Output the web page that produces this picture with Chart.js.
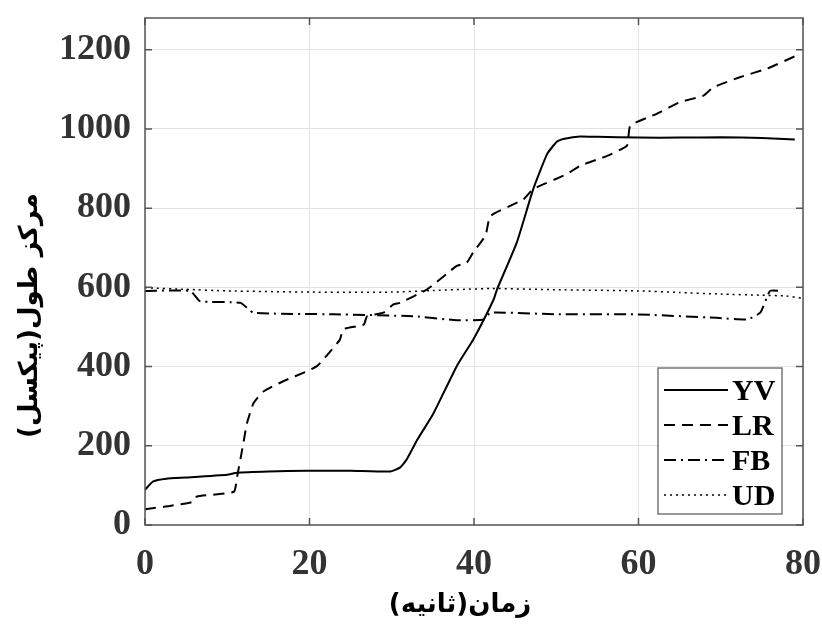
<!DOCTYPE html>
<html>
<head>
<meta charset="utf-8">
<script src="https://cdn.jsdelivr.net/npm/chart.js@4/dist/chart.umd.min.js"></script>
<style>
  html, body { margin: 0; padding: 0; background: #fff; }
  #wrap { width: 822px; height: 628px; position: relative; }
</style>
</head>
<body>
<div id="wrap"><canvas id="chart" width="822" height="628"></canvas></div>
<script>
// ---- data ----
const xTicks = [0, 20, 40, 60, 80];
const yTicks = [0, 200, 400, 600, 800, 1000, 1200];

const seriesNames = ['YV', 'LR', 'FB', 'UD'];

const tYV = [0, 1, 2.6, 5, 10, 11.2, 15, 19.7, 25, 29.8, 31, 31.8, 33.1, 35.1, 37.9, 39.9, 41.2, 42.4, 42.8, 45.2, 47.2, 48.9, 50.1, 51, 52.9, 55, 60, 65, 70, 75, 79];
const vYV = [89, 110, 117, 120, 127, 132, 135, 137, 137, 135, 145, 165, 215, 283, 401, 468, 519, 570, 595, 713, 848, 937, 968, 975, 981, 980, 978, 978, 979, 977, 973];

const tLR = [0, 3, 5.9, 6.3, 10.8, 11.2, 11.9, 12.4, 13.2, 14.4, 16.8, 19.7, 20.9, 21.7, 23.7, 24.1, 26.6, 27, 29, 30.2, 31, 34.3, 37.9, 39.1, 39.9, 41.4, 42, 46, 47.2, 51.3, 52.9, 56.2, 58.6, 59, 62.2, 65.1, 67.9, 69.1, 72.4, 75.6, 79.3];
const vLR = [40, 48, 59, 72, 84, 122, 200, 257, 308, 337, 363, 388, 401, 418, 468, 494, 506, 527, 536, 557, 561, 595, 654, 662, 688, 731, 780, 822, 848, 886, 907, 932, 958, 1008, 1038, 1068, 1084, 1105, 1131, 1152, 1186];

const tFB = [0, 5.5, 6.7, 11.6, 13.2, 22.9, 32.6, 37.9, 41.2, 42, 50.1, 59.4, 69.5, 73.2, 74.8, 76, 77.2];
const vFB = [591, 591, 565, 561, 536, 532, 527, 517, 519, 536, 532, 532, 523, 519, 536, 591, 591];

const tUD = [0, 5, 10, 20, 30, 35, 42, 50, 60, 65, 70, 75, 78, 80];
const vUD = [599, 595, 591, 588, 588, 592, 597, 594, 591, 587, 583, 580, 578, 572];

const xTitle = 'زمان(ثانیه)';
const yTitle = 'مرکز طول(پیکسل)';

function pts(t, v) {
    return t.map((x, i) => ({ x: x, y: v[i] }));
}

const tickFont = { family: "'Liberation Serif', 'Times New Roman', serif", size: 36, weight: 'bold' };
const titleFont = { family: "'DejaVu Sans', sans-serif", size: 26, weight: 'bold' };

// ---- frame, inner tick marks and axis titles (matlab style box) ----
const framePlugin = {
    id: 'frame',
    afterDatasetsDraw(chart) {
        const { ctx, chartArea: a, scales } = chart;
        ctx.save();
        ctx.strokeStyle = '#555';
        ctx.lineWidth = 1.5;
        ctx.setLineDash([]);
        ctx.strokeRect(a.left, a.top, a.right - a.left, a.bottom - a.top);
        const len = 7;
        ctx.beginPath();
        xTicks.forEach(v => {
            const px = scales.x.getPixelForValue(v);
            ctx.moveTo(px, a.bottom); ctx.lineTo(px, a.bottom - len);
            ctx.moveTo(px, a.top); ctx.lineTo(px, a.top + len);
        });
        yTicks.forEach(v => {
            const py = scales.y.getPixelForValue(v);
            ctx.moveTo(a.left, py); ctx.lineTo(a.left + len, py);
            ctx.moveTo(a.right, py); ctx.lineTo(a.right - len, py);
        });
        ctx.stroke();

        ctx.font = `bold ${titleFont.size}px ${titleFont.family}`;
        ctx.fillStyle = '#000';
        ctx.textAlign = 'center';
        ctx.textBaseline = 'middle';
        // x title sits a little left of the plot centre in the original
        ctx.fillText(xTitle, (a.left + a.right) / 2 - 14, a.bottom + 80);

        // y title, rotated, a bit below the middle
        ctx.translate(30, (a.top + a.bottom) / 2 + 44);
        ctx.rotate(-Math.PI / 2);
        ctx.fillText(yTitle, 0, 0);
        ctx.restore();
    }
};

// ---- legend box in the lower right of the plot ----
const legendPlugin = {
    id: 'boxLegend',
    afterDraw(chart) {
        const { ctx, chartArea: a } = chart;
        const w = 124, h = 146;
        const x0 = a.right - 21 - w;
        const y0 = a.bottom - 11 - h;
        ctx.save();
        ctx.fillStyle = '#fff';
        ctx.fillRect(x0, y0, w, h);
        ctx.strokeStyle = '#555';
        ctx.lineWidth = 1.2;
        ctx.setLineDash([]);
        ctx.strokeRect(x0, y0, w, h);
        ctx.font = "bold 30px 'Liberation Serif', serif";
        ctx.textBaseline = 'middle';
        chart.data.datasets.forEach((ds, i) => {
            const yy = y0 + 22 + i * 35;
            ctx.strokeStyle = '#000';
            ctx.lineWidth = ds.borderWidth;
            ctx.setLineDash(ds.borderDash || []);
            ctx.beginPath();
            ctx.moveTo(x0 + 6, yy);
            ctx.lineTo(x0 + 70, yy);
            ctx.stroke();
            ctx.setLineDash([]);
            ctx.fillStyle = '#000';
            ctx.fillText(ds.label, x0 + 74, yy + 2);
        });
        ctx.restore();
    }
};

const chart = new Chart(document.getElementById('chart'), {
    type: 'line',
    data: {
        datasets: [
            { label: seriesNames[0], data: pts(tYV, vYV), borderColor: '#000', borderWidth: 2, borderDash: [] },
            { label: seriesNames[1], data: pts(tLR, vLR), borderColor: '#000', borderWidth: 2, borderDash: [11, 7] },
            { label: seriesNames[2], data: pts(tFB, vFB), borderColor: '#000', borderWidth: 2, borderDash: [12, 5, 2, 5] },
            { label: seriesNames[3], data: pts(tUD, vUD), borderColor: '#000', borderWidth: 1.5, borderDash: [2, 4] }
        ]
    },
    options: {
        responsive: false,
        animation: false,
        elements: { point: { radius: 0 }, line: { tension: 0.15 } },
        layout: { padding: { top: 18, right: 19, left: 0, bottom: 0 } },
        plugins: { legend: { display: false }, tooltip: { enabled: false } },
        scales: {
            x: {
                type: 'linear', min: 0, max: 80,
                afterBuildTicks: s => { s.ticks = xTicks.map(v => ({ value: v })); },
                afterFit: s => { s.height = 103; s.paddingLeft = 0; s.paddingRight = 0; },
                grid: { color: '#e4e4e4', lineWidth: 1, drawTicks: false },
                border: { display: false },
                ticks: { font: tickFont, color: '#333', padding: 18, maxRotation: 0, callback: v => String(v) },
                title: { display: false }
            },
            y: {
                type: 'linear', min: 0, max: 1280,
                afterBuildTicks: s => { s.ticks = yTicks.map(v => ({ value: v })); },
                afterFit: s => { s.width = 145; s.paddingTop = 0; s.paddingBottom = 0; },
                grid: { color: '#e4e4e4', lineWidth: 1, drawTicks: false },
                border: { display: false },
                ticks: { font: tickFont, color: '#333', padding: 14, callback: v => String(v) },
                title: { display: false }
            }
        }
    },
    plugins: [framePlugin, legendPlugin]
});
</script>
</body>
</html>
